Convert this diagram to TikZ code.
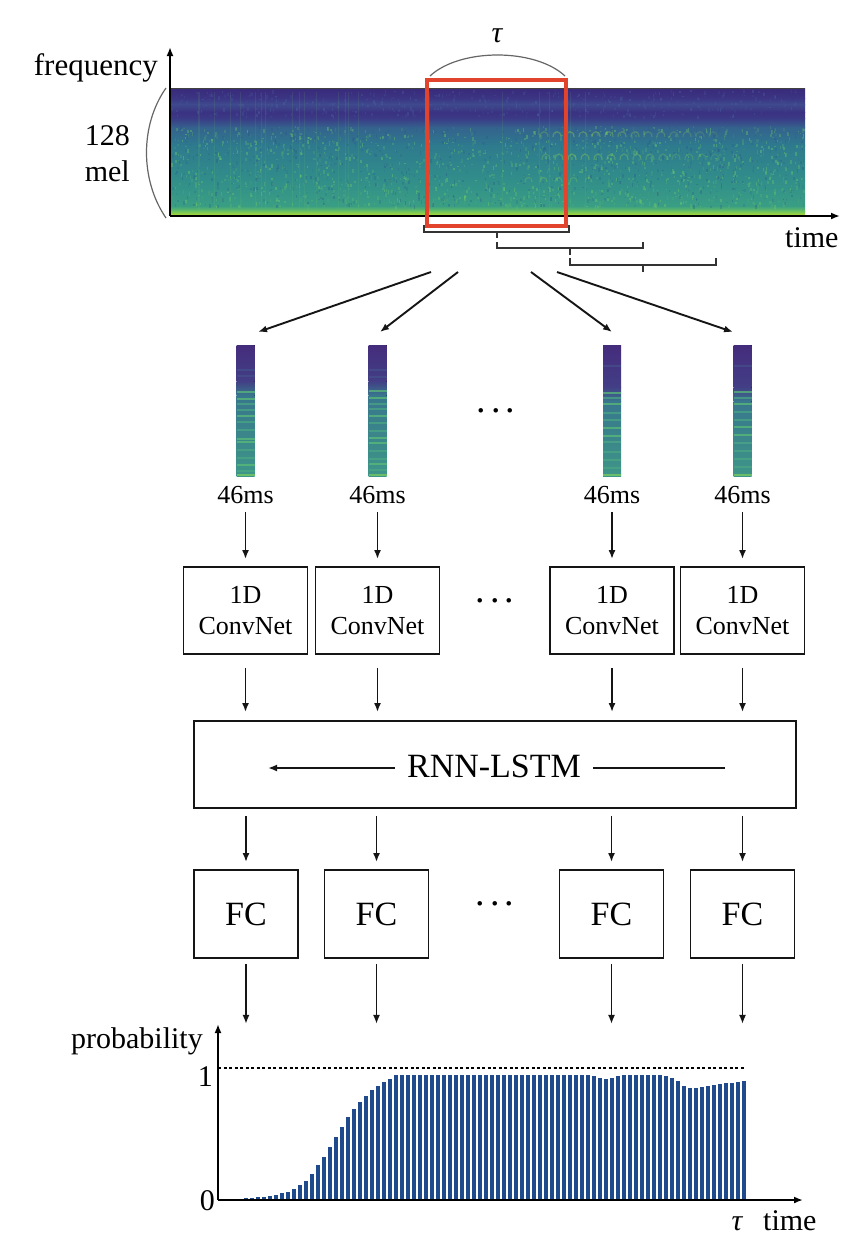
\documentclass[tikz,border=0pt]{standalone}
\usepackage{fontspec}
\setmainfont{Liberation Serif}
\usetikzlibrary{arrows.meta}
\definecolor{barcol}{HTML}{1F4B8D}
\definecolor{redbox}{HTML}{E2432D}
\definecolor{lncol}{HTML}{151515}
\definecolor{c1}{HTML}{3A2A7A}
\definecolor{c2}{HTML}{3B3584}
\definecolor{c3}{HTML}{3E4A8D}
\definecolor{c4}{HTML}{3A3282}
\definecolor{c4b}{HTML}{3B3A86}
\definecolor{c5}{HTML}{34628D}
\definecolor{c6}{HTML}{2E7A8E}
\definecolor{c7}{HTML}{318E8A}
\definecolor{c8}{HTML}{3A9E84}
\definecolor{c9}{HTML}{6CC45E}
\definecolor{c10}{HTML}{B8DE2E}
\definecolor{sp1}{HTML}{442C7C}
\definecolor{sp2}{HTML}{433E86}
\definecolor{sl}{HTML}{44508C}
\definecolor{st1}{HTML}{38768D}
\definecolor{st2}{HTML}{3E9688}
\definecolor{sg1}{HTML}{5CBF76}
\definecolor{sg2}{HTML}{4AA883}
\definecolor{sy}{HTML}{7CCF5E}
\definecolor{ngreen}{HTML}{6CC86A}
\definecolor{ndark}{HTML}{2A5588}
\definecolor{ntop}{HTML}{4A6AA0}
\definecolor{chirp}{HTML}{9AD448}

\newcommand\melstrip[4]{% #1 x centre, #2 purple end, #3 lines, #4 name
  \begin{scope}[shift={(#1,345)}]
    \fill[top color=sp1,bottom color=sp2] (-9,0) rectangle (9,#2);
    \fill[top color=sp2,bottom color=st1] (-9,#2) rectangle (9,#2+14);
    \fill[top color=st1,bottom color=st2] (-9,#2+14) rectangle (9,131);
    \foreach \yy/\cc in {#3} \fill[\cc, opacity=0.7] (-9,\yy) rectangle (9,\yy+2.2);
  \end{scope}
  \node[minimum width=18pt, minimum height=131pt, inner sep=0] (#4) at (#1,410.5) {};}

\begin{document}
\begin{tikzpicture}[x=1pt,y=-1pt,
  arr/.style={draw=lncol, line width=1.9pt, -{Latex[length=9pt,width=7pt]}},
  axarr/.style={draw=black, line width=1.9pt, -{Latex[length=9pt,width=7pt]}},
  box/.style={draw=lncol, line width=1.9pt, minimum width=124pt, minimum height=87pt, inner sep=0pt, align=center, font=\fontsize{26}{31}\selectfont},
  fcbox/.style={box, minimum width=104pt, minimum height=88pt, font=\fontsize{34}{40}\selectfont},
  lab/.style={font=\fontsize{30}{36}\selectfont, inner sep=0pt},
  ms/.style={font=\fontsize{26}{31}\selectfont, inner sep=0pt},
  dotsn/.style={font=\fontsize{38}{40}\selectfont, inner sep=0pt, anchor=base},
  brk/.style={draw=black!80, line width=1.6pt},
  thin/.style={draw=black!60, line width=1.2pt}]
\useasboundingbox (0,0) rectangle (864,1258);
\fill[white] (0,0) rectangle (864,1258);

% ---------------- spectrogram ----------------
\fill[top color=c1,bottom color=c2] (170,88) rectangle (805,98.5);
\fill[top color=c2,bottom color=c3] (170,98) rectangle (805,104.5);
\fill[top color=c3,bottom color=c4] (170,104) rectangle (805,112.5);
\fill[top color=c4,bottom color=c4b] (170,112) rectangle (805,118.5);
\fill[top color=c4b,bottom color=c5] (170,118) rectangle (805,127.5);
\fill[top color=c5,bottom color=c6] (170,127) rectangle (805,145.5);
\fill[top color=c6,bottom color=c7] (170,145) rectangle (805,180.5);
\fill[top color=c7,bottom color=c8] (170,180) rectangle (805,206.5);
\fill[top color=c8,bottom color=c9] (170,206) rectangle (805,211.5);
\fill[top color=c9,bottom color=c10] (170,211) rectangle (805,216);
\pgfmathsetseed{17}
\foreach \k in {1,...,1300}{
  \pgfmathsetmacro\xx{171+632*rnd}
  \pgfmathsetmacro\yy{126+80*rnd}
  \pgfmathsetmacro\ll{1+3*rnd}
  \pgfmathsetmacro\oo{0.1+0.35*rnd}
  \fill[ngreen, opacity=\oo] (\xx,\yy) rectangle ++(1.6,\ll);
}
\foreach \k in {1,...,800}{
  \pgfmathsetmacro\xx{171+632*rnd}
  \pgfmathsetmacro\yy{126+80*rnd}
  \pgfmathsetmacro\ll{1+3*rnd}
  \pgfmathsetmacro\oo{0.1+0.25*rnd}
  \fill[ndark, opacity=\oo] (\xx,\yy) rectangle ++(1.6,\ll);
}
\foreach \k in {1,...,400}{
  \pgfmathsetmacro\xx{171+632*rnd}
  \pgfmathsetmacro\yy{90+26*rnd}
  \pgfmathsetmacro\ll{1+3*rnd}
  \pgfmathsetmacro\oo{0.1+0.25*rnd}
  \fill[ntop, opacity=\oo] (\xx,\yy) rectangle ++(1.6,\ll);
}
\foreach \k in {1,...,22}{
  \pgfmathsetmacro\xx{175+420*rnd}
  \draw[line width=1pt, draw=ngreen, opacity=0.12] (\xx,92) -- (\xx,209);
}
\foreach \cx/\op in {540/0.25,553/0.35,566/0.4,579/0.35,592/0.35,605/0.3,618/0.3,631/0.28,644/0.25,657/0.25,670/0.2,683/0.2,696/0.18,709/0.15}{
  \draw[chirp, line width=1.2pt, opacity=\op] (\cx,137) .. controls (\cx,130) and (\cx+8,130) .. (\cx+8,137);
  \draw[chirp, line width=1.2pt, opacity=\op] (\cx+2,160) .. controls (\cx+2,152) and (\cx+10,152) .. (\cx+10,160);
}
\foreach \cx/\op in {525/0.25,540/0.3,555/0.25,570/0.25,585/0.2}{
  \draw[chirp, line width=1.1pt, opacity=\op] (\cx,182) .. controls (\cx,176) and (\cx+7,176) .. (\cx+7,182);
}
\draw[black!75, line width=1.2pt] (170,88.5) -- (805,88.5);
\node[minimum width=635pt, minimum height=128pt, inner sep=0] (spec) at (487.5,152) {};

% axes of spectrogram
\coordinate (so) at (170,216);
\coordinate (fy) at (170,47);
\coordinate (tx) at (840,216);
\draw[axarr] (so) -- (fy);
\draw[axarr] (so) -- (tx);
\node[lab, anchor=base east, font=\fontsize{31}{36}\selectfont] (freq) at (158,75) {frequency};
\node[lab, anchor=base east] (n128) at (130,145) {128};
\node[lab, anchor=base east] (nmel) at (130,181) {mel};
\node[lab, anchor=base west] (ttop) at (785,247) {time};
\draw[thin] (166,88) .. controls (140,125) and (140,180) .. (166,218);

% tau window
\draw[redbox, line width=3.2pt] (427,80) rectangle (566,226);
\draw[thin] (430,76) .. controls (460,48) and (535,48) .. (565,76);
\node[lab, anchor=base] (tautop) at (497,42) {\itshape τ};

% brackets
\draw[brk] (424,225) -- (424,232) -- (569,232) -- (569,225);
\draw[brk] (497,232) -- (497,238);
\draw[brk] (497,242) -- (497,248) -- (643,248) -- (643,242);
\draw[brk] (570,248) -- (570,255);
\draw[brk] (570,258) -- (570,265) -- (716,265) -- (716,258);
\draw[brk] (643,265) -- (643,272);

% fan arrows
\coordinate (f1s) at (431,272); \coordinate (f1e) at (258,332);
\coordinate (f2s) at (458,272); \coordinate (f2e) at (380,332);
\coordinate (f3s) at (531,272); \coordinate (f3e) at (612,332);
\coordinate (f4s) at (557,272); \coordinate (f4e) at (733,332);
\draw[arr] (f1s) -- (f1e);
\draw[arr] (f2s) -- (f2e);
\draw[arr] (f3s) -- (f3e);
\draw[arr] (f4s) -- (f4e);

% strips
\melstrip{245.5}{36}{24/sl,30/sl,46/sg1,53/sg1,58/sg2,64/sg2,70/sg1,76/sg2,84/sg2,93/sg1,96/sg1,104/sg2,112/sg2,119/sg1,125/sg2,128.8/sy}{s1}
\melstrip{377.5}{36}{24/sl,31/sl,45/sg1,52/sg1,58/sg2,63/sg2,70/sg1,77/sg2,85/sg2,92/sg1,97/sg1,105/sg2,113/sg2,118/sg1,124/sg2,128.8/sy}{s2}
\melstrip{612}{42}{20/sl,47/sg1,52/sg2,58/sg1,67/sg2,74/sg2,82/sg1,90/sg1,96/sg2,106/sg2,114/sg2,122/sg2,128.8/sy}{s3}
\melstrip{742.5}{42}{20/sl,46/sg1,52/sg2,58/sg1,66/sg2,74/sg2,81/sg1,89/sg1,97/sg2,105/sg2,113/sg2,121/sg2,128.8/sy}{s4}
\node[dotsn] (d1) at (496,412) {.\hspace{5pt}.\hspace{5pt}.};

% 46ms labels
\node[ms, anchor=base] (m1) at (245.5,503) {46ms};
\node[ms, anchor=base] (m2) at (377.5,503) {46ms};
\node[ms, anchor=base] (m3) at (612,503) {46ms};
\node[ms, anchor=base] (m4) at (742.5,503) {46ms};

% ConvNet boxes
\node[box] (c1) at (245.5,610.5) {1D\\ConvNet};
\node[box] (c2) at (377.5,610.5) {1D\\ConvNet};
\node[box] (c3) at (612,610.5) {1D\\ConvNet};
\node[box] (c4) at (742.5,610.5) {1D\\ConvNet};
\node[dotsn] (d2) at (495,602) {.\hspace{5pt}.\hspace{5pt}.};
\foreach \i in {1,2,3,4}{
  \draw[arr] ([yshift=-9pt]m\i.base) -- ([yshift=7pt]c\i.north);
}

% RNN-LSTM
\node[draw=lncol, line width=1.9pt, minimum width=602pt, minimum height=87pt, inner sep=0] (rnn) at (495,764.5) {};
\node[font=\fontsize{34}{40}\selectfont, inner sep=0pt] (rnnt) at (494,766) {RNN-LSTM};
\coordinate (rr) at (725,768);
\coordinate (rl) at (268,768);
\draw[draw=lncol, line width=1.9pt] (rr) -- ([xshift=12pt]rnnt.east |- rr);
\draw[arr] ([xshift=-12pt]rnnt.west |- rl) -- (rl);
\foreach \i in {1,2,3,4}{
  \coordinate (ra\i) at (c\i.south |- rnn.north);
  \draw[arr] ([yshift=-13pt]c\i.south) -- ([yshift=8pt]ra\i);
}

% FC boxes
\node[fcbox] (fc1) at (246,914) {FC};
\node[fcbox] (fc2) at (376.5,914) {FC};
\node[fcbox] (fc3) at (611.5,914) {FC};
\node[fcbox] (fc4) at (742.5,914) {FC};
\node[dotsn] (d3) at (495,905) {.\hspace{5pt}.\hspace{5pt}.};
\foreach \i in {1,2,3,4}{
  \coordinate (rb\i) at (fc\i.north |- rnn.south);
  \draw[arr] ([yshift=-7pt]rb\i) -- ([yshift=7pt]fc\i.north);
  \coordinate (o\i) at ([yshift=-65pt]fc\i.south);
  \draw[arr] ([yshift=-5pt]fc\i.south) -- (o\i);
}

% probability chart
\foreach \h [count=\k from 0] in {0.004,0.006,0.009,0.012,0.02,0.02,0.024,0.027,0.032,0.04,0.053,0.064,0.088,0.117,0.155,0.21,0.277,0.347,0.424,0.507,0.587,0.661,0.728,0.781,0.835,0.877,0.915,0.941,0.971,1,1,1,1,1,1,1,1,1,1,1,1,1,1,1,1,1,1,1,1,1,1,1,1,1,1,1,1,1,1,1,1,1,0.99,0.975,0.968,0.975,0.99,1,1,1,1,1,1,1,0.99,0.975,0.95,0.91,0.893,0.893,0.903,0.912,0.92,0.928,0.935,0.94,0.946,0.952}{
  \fill[barcol] ({222+6*\k-1.65},1200) rectangle ++(3.3,{-125*\h});
}
\coordinate (po) at (218,1200);
\coordinate (py) at (218,1024);
\coordinate (px) at (803,1200);
\draw[axarr] (po) -- (py);
\draw[axarr] (po) -- (px);
\draw[black, line width=1.2pt, dash pattern=on 3pt off 2.5pt] (218,1068) -- (745,1068);
\node[lab, anchor=base east] (prob) at (203,1048) {probability};
\node[lab, anchor=base east] (one) at (213,1086) {1};
\node[lab, anchor=base east] (zero) at (215,1210) {0};
\node[lab, anchor=base] (taub) at (737,1230) {\itshape τ};
\node[lab, anchor=base west] (tbot) at (763,1230) {time};
\end{tikzpicture}
\end{document}
